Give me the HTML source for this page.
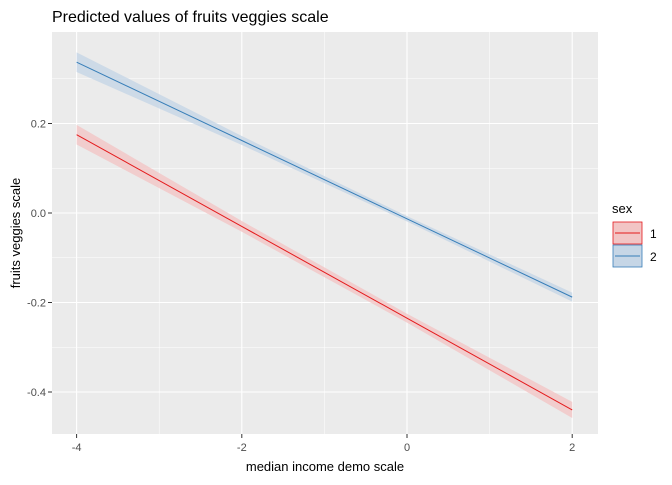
<!DOCTYPE html>
<html><head><meta charset="utf-8"><style>
body{margin:0;background:#fff;font-family:"Liberation Sans",Arial,sans-serif;}
svg text{font-family:"Liberation Sans",Arial,sans-serif;}
</style></head><body>
<svg id="chart" width="672" height="480" xmlns="http://www.w3.org/2000/svg">
<rect width="672" height="480" fill="#fff"/>
<text x="52" y="22" font-size="16" fill="#000">Predicted values of fruits veggies scale</text>
<rect x="52" y="32" width="546" height="402" fill="#ebebeb"/>
<g id="grid"></g><g id="series"></g><g id="axes"></g>
<text x="325" y="471" font-size="13" text-anchor="middle" fill="#000">median income demo scale</text>
<text transform="translate(20,233) rotate(-90)" font-size="13" text-anchor="middle" fill="#000">fruits veggies scale</text>
<g>
<text x="612" y="213" font-size="13" fill="#000">sex</text>
<g>
<rect x="613" y="222" width="29" height="22" fill="#f2c5c5" stroke="#e41a1c" stroke-width="0.8"/>
<line x1="615" x2="640" y1="233" y2="233" stroke="#e41a1c"/>
<text x="650" y="238" font-size="12" fill="#000">1</text></g>
<g>
<rect x="613" y="245" width="29" height="22" fill="#c6d6e6" stroke="#377eb8" stroke-width="0.8"/>
<line x1="615" x2="640" y1="256" y2="256" stroke="#377eb8"/>
<text x="650" y="261" font-size="12" fill="#000">2</text></g>
</g>
</svg>
<script>
const xValues=[-4,-2,0,2];
const sex1Pred=[0.175,-0.030,-0.235,-0.440];
const sex1Err=[0.022,0.012,0.010,0.018];
const sex2Pred=[0.337,0.162,-0.013,-0.188];
const sex2Err=[0.022,0.010,0.006,0.010];
const xTicks=[-4,-2,0,2];
const yTicks=[-0.4,-0.2,0.0,0.2];
const yTickLabels=["-0.4","-0.2","0.0","0.2"];
const xMinor=[-3,-1,1];
const yMinor=[-0.3,-0.1,0.1,0.3];
const NS="http://www.w3.org/2000/svg";
const sx=v=>407+v*82.6;
const sy=v=>213-v*447.5;
function mk(tag,attrs,parent){const e=document.createElementNS(NS,tag);for(const k in attrs)e.setAttribute(k,attrs[k]);parent.appendChild(e);return e;}
const grid=document.getElementById('grid'),ser=document.getElementById('series'),ax=document.getElementById('axes');
xMinor.forEach(v=>{const l=mk('line',{x1:sx(v),x2:sx(v),y1:32,y2:434,stroke:'#fff','stroke-width':0.5},grid);

});
yMinor.forEach(v=>{const l=mk('line',{x1:52,x2:598,y1:sy(v),y2:sy(v),stroke:'#fff','stroke-width':0.5},grid);

});
xTicks.forEach(v=>{const l=mk('line',{x1:sx(v),x2:sx(v),y1:32,y2:434,stroke:'#fff','stroke-width':1.1},grid);


mk('line',{x1:sx(v),x2:sx(v),y1:434,y2:438,stroke:'#333'},ax);
const t=mk('text',{x:sx(v),y:451,'font-size':11,'text-anchor':'middle',fill:'#4d4d4d'},ax);t.textContent=String(v);

});
yTicks.forEach((v,i)=>{const l=mk('line',{x1:52,x2:598,y1:sy(v),y2:sy(v),stroke:'#fff','stroke-width':1.1},grid);


mk('line',{x1:48,x2:52,y1:sy(v),y2:sy(v),stroke:'#333'},ax);
const t=mk('text',{x:46,y:sy(v)+4,'font-size':11,'text-anchor':'end',fill:'#4d4d4d'},ax);t.textContent=yTickLabels[i];

});
function draw(pred,err,col,fill,name){
let up=xValues.map((x,i)=>sx(x)+','+sy(pred[i]+err[i]));
let lo=xValues.map((x,i)=>sx(x)+','+sy(pred[i]-err[i])).reverse();
const b=mk('polygon',{points:up.concat(lo).join(' '),fill:fill,'fill-opacity':0.8},ser);


const l=mk('polyline',{points:xValues.map((x,i)=>sx(x)+','+sy(pred[i])).join(' '),fill:'none',stroke:col,'stroke-width':1},ser);

}
draw(sex1Pred,sex1Err,'#e41a1c','#f2c5c5','sex-1');
draw(sex2Pred,sex2Err,'#377eb8','#c6d6e6','sex-2');
</script>
</body></html>
